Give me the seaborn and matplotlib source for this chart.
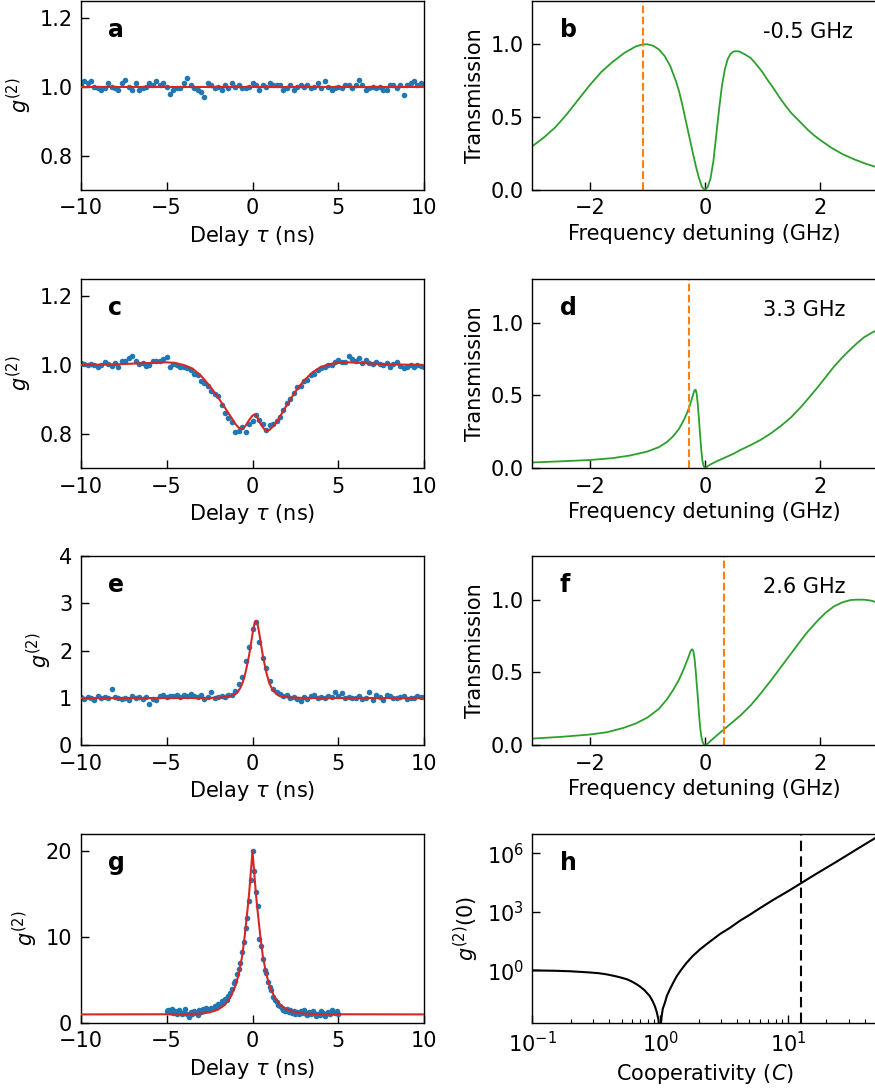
import numpy as np
import matplotlib
matplotlib.use("Agg")
import matplotlib.pyplot as plt
import seaborn as sns
from matplotlib.ticker import LogLocator, LogFormatterMathtext, NullLocator, FixedLocator

# ---- panel a : g2 data, flat ----
g2_a = [1.005, 1.015, 1.01, 1.015, 1.0, 0.995, 0.99, 0.995, 1.01, 1.0,
        0.995, 0.99, 1.01, 1.02, 1.0, 0.99, 1.01, 0.99, 0.995, 1.0,
        1.01, 1.005, 1.015, 1.005, 1.01, 1.0, 0.98, 0.99, 0.995, 0.995,
        1.01, 1.025, 1.005, 0.995, 0.99, 0.985, 0.97, 1.01, 1.005, 0.995,
        1.0, 0.99, 1.005, 0.995, 1.01, 1.0, 1.005, 0.995, 0.995, 1.0,
        1.01, 1.005, 0.99, 1.005, 1.0, 1.01, 1.005, 1.005, 1.005, 0.99,
        0.995, 1.005, 0.99, 1.0, 1.005, 1.0, 1.005, 0.995, 1.0, 1.01,
        0.995, 1.015, 1.0, 0.99, 0.995, 1.0, 0.995, 1.005, 1.005, 0.995,
        1.005, 1.02, 1.005, 0.99, 0.995, 1.0, 0.995, 1.0, 0.99, 0.99,
        1.005, 1.005, 0.995, 1.005, 0.975, 1.005, 1.01, 1.015, 1.005, 1.01,
        1.005]
fit_a_x = [-10, 10]
fit_a_y = [1.0, 1.0]

# ---- panel c : g2 data with double dip ----
g2_c = [1.005, 1.003, 1.0, 1.004, 1.0, 0.993, 1.0, 1.008, 1.003, 0.998,
        1.006, 0.994, 1.012, 1.012, 1.02, 1.027, 1.012, 1.003, 1.006, 0.998,
        1.0, 1.012, 1.013, 1.012, 1.017, 1.022, 0.995, 1.003, 1.0, 0.995,
        0.993, 0.99, 0.985, 0.975, 0.97, 0.955, 0.948, 0.94, 0.925, 0.915,
        0.91, 0.885, 0.86, 0.845, 0.835, 0.805, 0.807, 0.82, 0.806, 0.83,
        0.838, 0.855, 0.84, 0.83, 0.81, 0.825, 0.828, 0.838, 0.85, 0.87,
        0.89, 0.9, 0.92, 0.935, 0.94, 0.955, 0.958, 0.97, 0.975, 0.985,
        0.99, 0.993, 1.0, 1.0, 1.008, 1.015, 1.01, 1.01, 1.025, 1.018,
        1.013, 1.02, 1.006, 1.016, 1.005, 1.003, 1.01, 1.003, 1.0, 1.005,
        0.993, 1.003, 1.008, 0.998, 0.99, 0.995, 1.0, 0.993, 1.0, 0.996,
        0.993]
fit_c_x = [-10, -8, -6, -5, -4.5, -4, -3.5, -3, -2.5, -2, -1.5, -1.2, -1, -0.8, -0.7, -0.55,
           -0.4, -0.2, 0, 0.1, 0.2, 0.3, 0.5, 0.7, 0.85, 1.0, 1.2, 1.5, 2, 2.5, 3, 3.5,
           4, 4.5, 5, 5.5, 6, 7, 8, 10]
fit_c_y = [1.0, 1.002, 1.006, 1.008, 1.006, 1.0, 0.99, 0.969, 0.94, 0.906, 0.868, 0.845,
           0.829, 0.818, 0.815, 0.816, 0.824, 0.84, 0.853, 0.856, 0.854, 0.846, 0.826,
           0.813, 0.81, 0.812, 0.822, 0.842, 0.884, 0.923, 0.955, 0.979, 0.995, 1.003,
           1.006, 1.008, 1.007, 1.004, 1.002, 1.0]

# ---- panel e : g2 data with bunching peak ----
g2_e = [1.02, 0.98, 1.03, 1.01, 0.96, 1.04, 1.0, 1.02, 0.99, 1.18,
        1.03, 1.0, 0.97, 1.01, 0.96, 1.04, 1.0, 1.02, 0.97, 1.03,
        0.87, 0.98, 0.95, 1.04, 1.06, 1.03, 1.05, 1.04, 1.07, 1.02,
        1.06, 1.05, 1.08, 1.04, 1.02, 1.06, 0.97, 1.02, 1.13, 0.99,
        1.03, 1.05, 1.02, 1.06, 1.07, 1.15, 1.3, 1.45, 1.78, 2.07,
        2.45, 2.6, 2.19, 1.85, 1.64, 1.35, 1.2, 1.12, 1.09, 1.04,
        1.06, 1.01, 1.03, 0.98, 0.93, 1.02, 0.97, 1.04, 1.06, 1.0,
        1.02, 0.99, 1.04, 1.02, 1.13, 1.05, 1.1, 1.0, 1.03, 0.99,
        1.01, 1.04, 0.97, 1.0, 1.12, 0.96, 1.07, 1.02, 0.95, 1.06,
        1.04, 1.0, 0.99, 1.03, 1.05, 0.98, 1.01, 0.99, 1.04, 1.03,
        1.02]
fit_e_x = [-10, -2.5, -1.8, -1.4, -1.2, -1.0, -0.9, -0.8, -0.7, -0.6, -0.5, -0.4, -0.3,
           -0.2, -0.1, 0.0, 0.05, 0.1, 0.15, 0.2, 0.25, 0.3, 0.35, 0.4, 0.5, 0.6, 0.7,
           0.8, 0.9, 1.0, 1.1, 1.2, 1.4, 1.6, 1.9, 2.2, 3.0, 10]
fit_e_y = [1.0, 1.0, 1.01, 1.03, 1.05, 1.08, 1.11, 1.16, 1.22, 1.3, 1.41, 1.55, 1.72,
           1.9, 2.12, 2.35, 2.46, 2.55, 2.61, 2.63, 2.61, 2.55, 2.46, 2.35, 2.12, 1.9,
           1.72, 1.55, 1.41, 1.3, 1.22, 1.16, 1.08, 1.04, 1.02, 1.01, 1.0, 1.0]

# ---- panel g : g2 data, strong bunching (-5..5 ns) ----
g2_g = [1.4, 1.5, 1.3, 1.6, 1.2, 1.4, 1.1, 1.5, 1.3, 1.0,
        1.2, 1.6, 1.1, 0.7, 1.3, 1.0, 1.4, 1.2, 0.9, 1.5,
        1.3, 1.6, 1.4, 1.7, 1.5, 1.6, 1.8, 1.6, 2.0, 1.9,
        2.2, 2.1, 2.6, 2.3, 2.8, 2.7, 3.2, 3.5, 3.9, 4.6,
        4.9, 5.7, 6.3, 7.0, 8.3, 9.4, 11.1, 12.2, 14.2, 16.7,
        20.0, 17.7, 15.2, 13.6, 9.8, 9.0, 7.4, 6.2, 5.8, 4.8,
        4.2, 3.8, 3.0, 2.7, 2.4, 2.1, 2.0, 1.7, 1.5, 1.4,
        1.6, 1.3, 1.5, 1.2, 1.4, 1.1, 1.3, 1.0, 1.4, 1.2,
        1.5, 1.1, 0.9, 1.3, 1.0, 1.4, 1.2, 0.8, 1.1, 0.9,
        1.4, 1.2, 0.8, 1.0, 1.3, 1.1, 1.5, 1.3, 1.2, 1.4,
        1.0]
fit_g_x = [-10, -4, -3, -2.5, -2, -1.6, -1.3, -1.0, -0.8, -0.6, -0.45, -0.3, -0.2, -0.1, 0,
           0.1, 0.2, 0.3, 0.45, 0.6, 0.8, 1.0, 1.3, 1.6, 2, 2.5, 3, 4, 10]
fit_g_y = [1.0, 1.02, 1.1, 1.24, 1.57, 2.14, 2.94, 4.3, 5.7, 7.8, 10.2, 13.0, 15.0, 17.5, 20.0,
           17.5, 15.0, 13.0, 10.2, 7.8, 5.7, 4.3, 2.94, 2.14, 1.57, 1.24, 1.1, 1.02, 1.0]

# ---- transmission spectra ----
det_b = [-3.0, -2.8, -2.6, -2.4, -2.2, -2.0, -1.8, -1.6, -1.4, -1.2, -1.1, -1.0, -0.9,
         -0.8, -0.7, -0.6, -0.5, -0.45, -0.4, -0.35, -0.3, -0.25, -0.2, -0.15, -0.1,
         -0.05, 0.0, 0.05, 0.1, 0.15, 0.2, 0.25, 0.3, 0.35, 0.4, 0.45, 0.5, 0.55, 0.6,
         0.7, 0.8, 0.9, 1.0, 1.1, 1.2, 1.3, 1.4, 1.5, 1.6, 1.7, 1.8, 1.9, 2.0, 2.2,
         2.4, 2.6, 2.8, 3.0]
trans_b = [0.30, 0.36, 0.43, 0.52, 0.62, 0.72, 0.81, 0.88, 0.94, 0.985, 0.997, 1.0, 0.99,
           0.965, 0.92, 0.85, 0.745, 0.68, 0.6, 0.51, 0.42, 0.33, 0.24, 0.155, 0.08,
           0.022, 0.0, 0.02, 0.08, 0.2, 0.38, 0.56, 0.72, 0.83, 0.9, 0.935, 0.95, 0.952,
           0.95, 0.93, 0.905, 0.86, 0.81, 0.75, 0.695, 0.635, 0.58, 0.53, 0.49, 0.45, 0.41,
           0.375, 0.345, 0.29, 0.245, 0.21, 0.18, 0.155]
det_d = [-3.0, -2.5, -2.0, -1.6, -1.3, -1.0, -0.8, -0.66, -0.55, -0.45, -0.38, -0.32, -0.27,
         -0.23, -0.2, -0.18, -0.16, -0.14, -0.12, -0.1, -0.08, -0.06, -0.04, -0.02, 0.0,
         0.02, 0.05, 0.1, 0.2, 0.33, 0.5, 0.62, 0.8, 0.97, 1.15, 1.32, 1.5, 1.67, 1.8,
         1.96, 2.1, 2.25, 2.4, 2.54, 2.65, 2.77, 2.9, 3.0]
trans_d = [0.04, 0.048, 0.057, 0.07, 0.088, 0.115, 0.145, 0.18, 0.22, 0.27, 0.32, 0.37, 0.42,
           0.47, 0.51, 0.535, 0.54, 0.51, 0.43, 0.33, 0.22, 0.12, 0.05, 0.015, 0.005,
           0.005, 0.015, 0.027, 0.047, 0.07, 0.1, 0.126, 0.16, 0.195, 0.24, 0.29, 0.35,
           0.42, 0.48, 0.555, 0.625, 0.70, 0.765, 0.82, 0.86, 0.90, 0.93, 0.95]
det_f = [-3.0, -2.5, -2.0, -1.7, -1.41, -1.2, -1.0, -0.8, -0.66, -0.55, -0.45, -0.38, -0.32,
         -0.28, -0.25, -0.22, -0.2, -0.18, -0.16, -0.14, -0.12, -0.1, -0.08, -0.06, -0.04,
         -0.02, 0.0, 0.04, 0.1, 0.2, 0.33, 0.5, 0.62, 0.8, 0.97, 1.15, 1.32, 1.5, 1.67,
         1.8, 1.96, 2.1, 2.25, 2.4, 2.54, 2.65, 2.77, 2.9, 3.0]
trans_f = [0.046, 0.058, 0.074, 0.09, 0.12, 0.15, 0.19, 0.25, 0.315, 0.38, 0.45, 0.51, 0.57,
           0.61, 0.645, 0.66, 0.65, 0.6, 0.52, 0.42, 0.32, 0.21, 0.12, 0.06, 0.025,
           0.008, 0.002, 0.008, 0.03, 0.065, 0.108, 0.165, 0.205, 0.275, 0.355, 0.445, 0.535,
           0.63, 0.72, 0.785, 0.855, 0.91, 0.955, 0.983, 0.998, 1.0, 1.0, 0.993, 0.98]
laser_b, laser_d, laser_f = -1.08, -0.27, 0.33
labels_bdf = ["-0.5 GHz", "3.3 GHz", "2.6 GHz"]

# ---- panel h : g2(0) vs cooperativity ----
coop = [0.1, 0.15, 0.2, 0.27, 0.33, 0.38, 0.45, 0.5, 0.55, 0.6, 0.65, 0.69, 0.75, 0.8,
        0.83, 0.87, 0.91, 0.94, 0.968, 0.985, 1.0, 1.012, 1.028, 1.05, 1.09, 1.13, 1.19,
        1.26, 1.35, 1.45, 1.61, 1.8, 2.05, 2.4, 2.95, 3.5, 4.23, 5.0, 6.07, 7.73, 10.0,
        12.7, 15.5, 19.1, 23.0, 28.8, 36.0, 48.4, 52.0]
g2_zero = [1.0, 0.96, 0.9, 0.8, 0.72, 0.63, 0.5, 0.42, 0.35, 0.27, 0.2, 0.155, 0.1, 0.063,
           0.048, 0.028, 0.0145, 0.0075, 0.0032, 0.0012, 1e-4, 0.0015, 0.0045, 0.011, 0.022,
           0.05, 0.105, 0.22, 0.51, 1.0, 2.45, 5.5, 12, 27, 75, 150, 360, 700, 1600, 4300,
           11500, 30200, 6.8e4, 1.55e5, 3.2e5, 7.9e5, 1.95e6, 6.3e6, 8.5e6]
coop_marker = 12.7

sns.set_style("ticks")
plt.rcParams.update({"font.family": ["DejaVu Sans"], "mathtext.fontset": "dejavusans",
                     "axes.linewidth": 1.0, "axes.edgecolor": "black",
                     "text.color": "black", "axes.labelcolor": "black",
                     "xtick.color": "black", "ytick.color": "black"})

fig = plt.figure(figsize=(8.75, 10.88), dpi=100)
W, H = 875.0, 1088.0
FS = 15


def add_ax(left, top, w, h):
    return fig.add_axes([left / W, 1 - (top + h) / H, w / W, h / H])


def style(ax):
    ax.tick_params(direction="in", length=5.5, width=1.0, labelsize=FS, pad=6,
                   top=False, right=False, colors="black")
    for s in ax.spines.values():
        s.set_visible(True)
        s.set_linewidth(1.0)
        s.set_color("black")


def panel_letter(ax, letter):
    ax.text(0.08, 0.81, letter, transform=ax.transAxes, fontsize=17, fontweight="bold",
            ha="left", va="baseline", color="black")


tops = [0.5, 279, 556, 834]
heights = [189.5, 189.3, 189.3, 189.0]
left_x, left_w = 80.7, 343.6
right_x, right_w = 532.3, 345.0

blue, red, green, orange = "#1f77b4", "#d62728", "#2ca02c", "#ff7f0e"

g2_sets = [(g2_a, -10, 10, fit_a_x, fit_a_y, (0.7, 1.25), [0.8, 1.0, 1.2], "a"),
           (g2_c, -10, 10, fit_c_x, fit_c_y, (0.7, 1.25), [0.8, 1.0, 1.2], "c"),
           (g2_e, -10, 10, fit_e_x, fit_e_y, (0, 4), [0, 1, 2, 3, 4], "e"),
           (g2_g, -5, 5, fit_g_x, fit_g_y, (0, 22), [0, 10, 20], "g")]

for i, (vals, t0, t1, fx, fy, ylim, yt, letter) in enumerate(g2_sets):
    ax = add_ax(left_x, tops[i], left_w, heights[i])
    tau = np.linspace(t0, t1, len(vals))
    sns.scatterplot(x=tau, y=vals, ax=ax, color=blue, s=16, linewidth=0, zorder=2)
    sns.lineplot(x=fx, y=fy, ax=ax, color=red, lw=1.5, sort=False, errorbar=None, zorder=3)
    ax.set_xlim(-10, 10)
    ax.set_ylim(*ylim)
    ax.set_xticks([-10, -5, 0, 5, 10])
    ax.set_yticks(yt)
    ax.set_xlabel(r"Delay $\tau$ (ns)", fontsize=FS)
    ax.set_ylabel(r"$g^{(2)}$", fontsize=FS)
    panel_letter(ax, letter)
    style(ax)

spectra = [(det_b, trans_b, laser_b, "b"), (det_d, trans_d, laser_d, "d"),
           (det_f, trans_f, laser_f, "f")]
for i, (det, tr, laser, letter) in enumerate(spectra):
    ax = add_ax(right_x, tops[i], right_w, heights[i])
    sns.lineplot(x=det, y=tr, ax=ax, color=green, lw=1.3, sort=False, errorbar=None)
    ax.axvline(laser, color=orange, ls="--", lw=1.5)
    ax.set_xlim(-3, 3)
    ax.set_ylim(0, 1.3)
    ax.set_xticks([-2, 0, 2])
    ax.set_yticks([0.0, 0.5, 1.0])
    ax.set_xlabel("Frequency detuning (GHz)", fontsize=FS)
    ax.set_ylabel("Transmission", fontsize=FS)
    panel_letter(ax, letter)
    ax.text(0.668, 0.835, labels_bdf[i], transform=ax.transAxes, fontsize=FS,
            ha="left", va="center")
    style(ax)

ax = add_ax(right_x, tops[3], right_w, heights[3])
sns.lineplot(x=coop, y=g2_zero, ax=ax, color="black", lw=1.5, sort=False, errorbar=None)
ax.axvline(coop_marker, color="black", ls=(0, (5, 2.5)), lw=1.5)
ax.set_xscale("log")
ax.set_yscale("log")
ax.set_xlim(0.1, 50)
ax.set_ylim(2e-3, 1e7)
ax.yaxis.set_major_locator(FixedLocator([1, 1e3, 1e6]))
ax.yaxis.set_major_formatter(LogFormatterMathtext())
ax.yaxis.set_minor_locator(NullLocator())
ax.xaxis.set_major_locator(FixedLocator([0.1, 1, 10]))
ax.xaxis.set_major_formatter(LogFormatterMathtext())
ax.xaxis.set_minor_locator(LogLocator(base=10, subs=np.arange(2, 10), numticks=20))
ax.set_xlabel(r"Cooperativity ($C$)", fontsize=FS)
ax.set_ylabel(r"$g^{(2)}(0)$", fontsize=FS)
panel_letter(ax, "h")
style(ax)
ax.tick_params(which="minor", direction="in", length=3, width=0.8, top=False, right=False)

fig.savefig("out.png", dpi=100)
